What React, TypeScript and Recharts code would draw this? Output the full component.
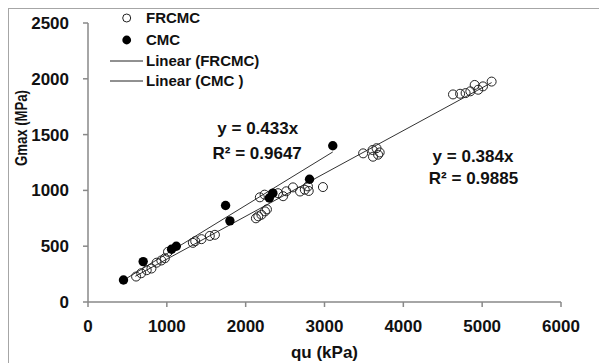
import React from 'react';
import { ScatterChart, Scatter, XAxis, YAxis, Legend, ReferenceDot, Label } from 'recharts';

// FRCMC specimens: unconfined strength qu (kPa) vs. small-strain stiffness Gmax (MPa)
const frcmcQu = [
  610, 675, 745, 805, 870, 930, 975, 1015, 1330, 1360, 1440, 1545, 1610,
  2130, 2160, 2200, 2245, 2270, 2180, 2240, 2410, 2475, 2515, 2600, 2690,
  2750, 2790, 2800, 2980, 3490, 3615, 3660, 3700, 3610, 3680, 4630, 4720,
  4790, 4850, 4905, 4950, 5010, 5120,
];
const frcmcG = [
  228, 258, 285, 300, 352, 372, 392, 450, 530, 545, 563, 592, 602,
  750, 768, 782, 812, 830, 938, 962, 975, 948, 992, 1027, 990,
  1006, 1036, 995, 1030, 1332, 1302, 1378, 1340, 1362, 1320, 1860, 1866,
  1872, 1888, 1945, 1902, 1932, 1975,
];

// CMC specimens
const cmcQu = [450, 700, 1060, 1120, 1745, 1800, 2300, 2345, 2810, 3105];
const cmcG = [197, 362, 473, 500, 865, 727, 932, 975, 1100, 1400];

// Linear trendlines through the origin, drawn over each data range
const frcmcSlope = 0.384;
const cmcSlope = 0.433;
const frcmcRange = [600, 5120];
const cmcRange = [450, 3105];

const xTicks = [0, 1000, 2000, 3000, 4000, 5000, 6000];
const yTicks = [0, 500, 1000, 1500, 2000, 2500];

const frcmcData = frcmcQu.map((x, i) => ({ x, y: frcmcG[i] }));
const cmcData = cmcQu.map((x, i) => ({ x, y: cmcG[i] }));
const frcmcFit = frcmcRange.map((x) => ({ x, y: frcmcSlope * x }));
const cmcFit = cmcRange.map((x) => ({ x, y: cmcSlope * x }));

const FONT = "'Liberation Sans', Arial, sans-serif";
const TEXT = '#111';
const AXIS = '#888888';

const OpenDot = (p: any) => (
  <circle cx={p.cx} cy={p.cy} r={4.5} fill="none" stroke="#222" strokeWidth={1} />
);
const FilledDot = (p: any) => <circle cx={p.cx} cy={p.cy} r={4.7} fill="#000" />;
const NoDot = () => <g />;

const legendRows = [
  { kind: 'open', text: 'FRCMC', y: 18 },
  { kind: 'filled', text: 'CMC', y: 40 },
  { kind: 'line', text: 'Linear (FRCMC)', y: 61 },
  { kind: 'line', text: 'Linear (CMC )', y: 81 },
];

const LegendBox = () => (
  <svg width={200} height={95} style={{ overflow: 'visible' }}>
    {legendRows.map((r) => (
      <g key={r.text}>
        {r.kind === 'open' && <circle cx={126.7} cy={r.y} r={4} fill="none" stroke="#222" strokeWidth={1} />}
        {r.kind === 'filled' && <circle cx={126.7} cy={r.y} r={4.4} fill="#000" />}
        {r.kind === 'line' && <line x1={110} x2={143} y1={r.y} y2={r.y} stroke="#222" strokeWidth={1} />}
        <text x={146} y={r.y} dy="0.36em" fontFamily={FONT} fontSize={15} fontWeight={700} fill={TEXT}>
          {r.text}
        </text>
      </g>
    ))}
  </svg>
);

const eqLabel = (value: string) => ({
  value,
  position: 'center' as const,
  fill: TEXT,
  fontSize: 17,
  fontWeight: 700,
  fontFamily: FONT,
});

export default function App() {
  return (
    <div style={{ position: 'absolute', left: 0, top: 0, width: 599, height: 363, background: '#fff' }}>
      <div
        style={{
          position: 'absolute',
          left: 8,
          top: 8,
          right: 0,
          bottom: 0,
          borderTop: '1px solid #a6a6a6',
          borderLeft: '1px solid #a6a6a6',
        }}
      />
      <ScatterChart width={599} height={363} margin={{ top: 23, right: 38, bottom: 5, left: 0 }}>
        <XAxis
          type="number"
          dataKey="x"
          domain={[0, 6000]}
          ticks={xTicks}
          interval={0}
          allowDataOverflow
          height={56}
          stroke={AXIS}
          strokeWidth={1.5}
          tickSize={5}
          tickMargin={13}
          tick={{ fill: TEXT, fontSize: 17, fontWeight: 700, fontFamily: FONT }}
        >
          <Label
            value="qu (kPa)"
            position="insideBottom"
            offset={0}
            fill={TEXT}
            fontSize={17}
            fontWeight={700}
            fontFamily={FONT}
          />
        </XAxis>
        <YAxis
          type="number"
          dataKey="y"
          domain={[0, 2500]}
          ticks={yTicks}
          interval={0}
          allowDataOverflow
          width={88}
          stroke={AXIS}
          strokeWidth={1.5}
          tickSize={5}
          tickMargin={14}
          tick={{ fill: TEXT, fontSize: 17, fontWeight: 700, fontFamily: FONT }}
          label={{
            content: () => (
              <text
                x={21}
                y={128}
                transform="rotate(-90, 21, 128)"
                textAnchor="middle"
                dominantBaseline="central"
                fontFamily={FONT}
                fontSize={17}
                fontWeight={700}
                fill={TEXT}
                textLength={76}
                lengthAdjust="spacingAndGlyphs"
              >
                Gmax (MPa)
              </text>
            ),
          }}
        />
        <Legend
          layout="horizontal"
          verticalAlign="middle"
          align="center"
          content={() => <LegendBox />}
          wrapperStyle={{ position: 'absolute', left: 0, top: 0, width: 200, height: 95 }}
        />
        <Scatter name="Linear (FRCMC)" data={frcmcFit} line={{ stroke: '#333', strokeWidth: 1 }} shape={NoDot} isAnimationActive={false} legendType="none" />
        <Scatter name="Linear (CMC )" data={cmcFit} line={{ stroke: '#333', strokeWidth: 1 }} shape={NoDot} isAnimationActive={false} legendType="none" />
        <Scatter name="FRCMC" data={frcmcData} shape={OpenDot} isAnimationActive={false} />
        <Scatter name="CMC" data={cmcData} shape={FilledDot} isAnimationActive={false} />
        <ReferenceDot x={2153} y={1562} r={1} fill="none" stroke="none" label={eqLabel('y = 0.433x')} />
        <ReferenceDot x={2146} y={1338} r={1} fill="none" stroke="none" label={eqLabel('R² = 0.9647')} />
        <ReferenceDot x={4884} y={1305} r={1} fill="none" stroke="none" label={eqLabel('y = 0.384x')} />
        <ReferenceDot x={4890} y={1111} r={1} fill="none" stroke="none" label={eqLabel('R² = 0.9885')} />
      </ScatterChart>
    </div>
  );
}
